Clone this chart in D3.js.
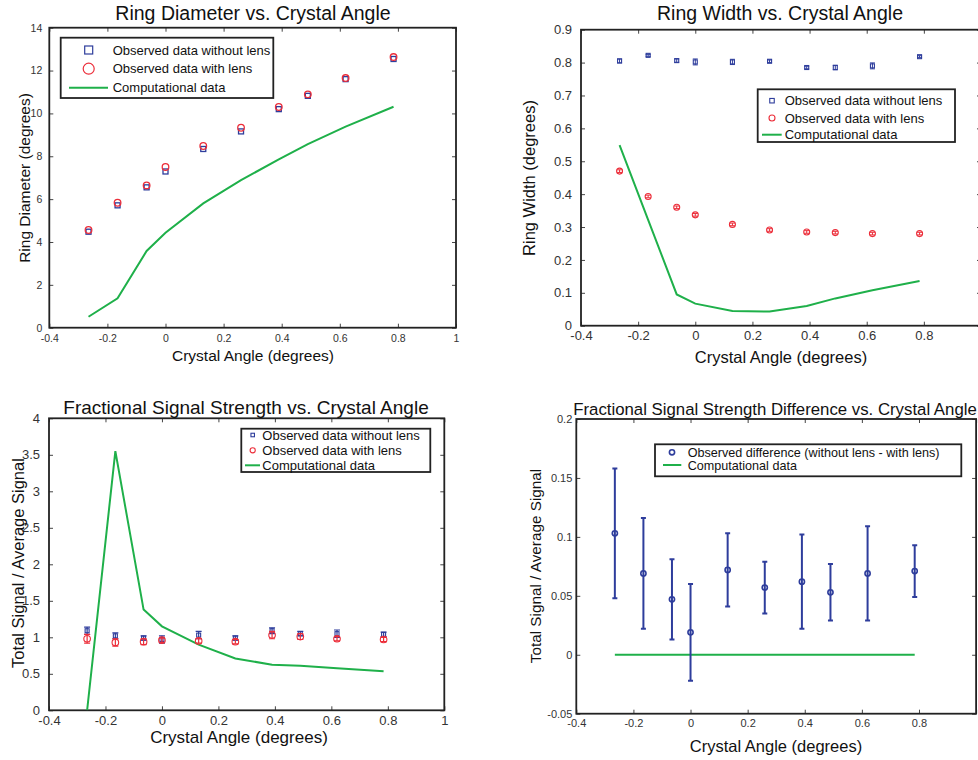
<!DOCTYPE html>
<html><head><meta charset="utf-8">
<script src="https://cdn.jsdelivr.net/npm/d3@7"></script>
<style>body{margin:0;background:#fff}svg{display:block;font-family:"Liberation Sans",Arial,sans-serif}</style>
</head><body><svg id="c" width="978" height="760"></svg>
<script>
// ---------- data ----------
const xAngle = [-0.265, -0.165, -0.065, 0, 0.13, 0.26, 0.39, 0.49, 0.62, 0.785];

const diamNoLens = [4.48, 5.71, 6.55, 7.29, 8.34, 9.16, 10.20, 10.82, 11.60, 12.54];
const diamLens   = [4.56, 5.83, 6.64, 7.50, 8.48, 9.33, 10.30, 10.89, 11.65, 12.63];
const diamComp   = [0.51, 1.37, 3.58, 4.43, 5.80, 6.89, 7.85, 8.57, 9.38, 10.31];

const widthNoLens    = [0.805, 0.822, 0.806, 0.802, 0.802, 0.804, 0.785, 0.785, 0.790, 0.818];
const widthNoLensErr = [0.006, 0.003, 0.005, 0.009, 0.008, 0.004, 0.004, 0.007, 0.009, 0.003];
const widthLens      = [0.470, 0.393, 0.360, 0.337, 0.308, 0.291, 0.285, 0.283, 0.280, 0.280];
const widthLensErr   = [0.004, 0.004, 0.004, 0.004, 0.004, 0.004, 0.004, 0.004, 0.004, 0.004];
const widthComp      = [0.549, 0.322, 0.095, 0.067, 0.045, 0.043, 0.060, 0.083, 0.108, 0.136];

const sigNoLens    = [1.09, 1.02, 0.99, 0.97, 1.03, 0.99, 1.09, 1.05, 1.05, 1.04];
const sigNoLensErr = [0.05, 0.04, 0.03, 0.05, 0.05, 0.03, 0.04, 0.03, 0.05, 0.03];
const sigLens      = [0.98, 0.93, 0.94, 0.96, 0.95, 0.94, 1.03, 1.01, 0.98, 0.97];
const sigLensErr   = [0.06, 0.05, 0.04, 0.03, 0.03, 0.03, 0.05, 0.04, 0.03, 0.03];
const sigComp      = [0.00, 3.55, 1.38, 1.15, 0.90, 0.71, 0.625, 0.61, 0.575, 0.535];

const diffObs  = [0.103, 0.069, 0.047, 0.019, 0.072, 0.057, 0.062, 0.053, 0.069, 0.071];
const diffErr  = [0.055, 0.047, 0.034, 0.041, 0.031, 0.022, 0.040, 0.024, 0.040, 0.022];
const diffComp = [0, 0, 0, 0, 0, 0, 0, 0, 0, 0];

const xTicks = [-0.4, -0.2, 0, 0.2, 0.4, 0.6, 0.8, 1];
const xTicksShown = [-0.4, -0.2, 0, 0.2, 0.4, 0.6, 0.8];
const diamTicks = [0, 2, 4, 6, 8, 10, 12, 14];
const widthTicks = [0, 0.1, 0.2, 0.3, 0.4, 0.5, 0.6, 0.7, 0.8, 0.9];
const sigTicks = [0, 0.5, 1, 1.5, 2, 2.5, 3, 3.5, 4];
const diffTicks = [-0.05, 0, 0.05, 0.1, 0.15, 0.2];

const labNoLens = "Observed data without lens";
const labLens = "Observed data with lens";
const labComp = "Computational data";
const labDiff = "Observed difference (without lens - with lens)";

// ---------- styles ----------
const BLUE = "#2e3d9c", RED = "#ec2e3a", GREEN = "#1fb04a", AX = "#222";
const svg = d3.select("#c");
const fmt = d => String(+d.toFixed(2));

function panel(o) {
  const g = svg.append("g");
  const x = d3.scaleLinear().domain([-0.4, 1]).range([o.l, o.r]);
  const y = d3.scaleLinear().domain(o.yd).range([o.b, o.t]);
  const xlabFmt = d => (o.xShown.indexOf(d) >= 0 ? fmt(d) : "");
  const bottom = d3.axisBottom(x).tickValues(xTicks).tickSizeInner(-4).tickSizeOuter(0).tickPadding(o.xpad).tickFormat(xlabFmt);
  const top = d3.axisTop(x).tickValues(xTicks).tickSizeInner(-4).tickSizeOuter(0).tickFormat("");
  const left = d3.axisLeft(y).tickValues(o.yt).tickSizeInner(-4).tickSizeOuter(0).tickPadding(o.ypad).tickFormat(fmt);
  const right = d3.axisRight(y).tickValues(o.yt).tickSizeInner(-4).tickSizeOuter(0).tickFormat("");
  const ax = [
    g.append("g").attr("transform", `translate(0,${o.b})`).call(bottom),
    g.append("g").attr("transform", `translate(0,${o.t})`).call(top),
    g.append("g").attr("transform", `translate(${o.l},0)`).call(left),
    g.append("g").attr("transform", `translate(${o.r},0)`).call(right)
  ];
  ax.forEach(a => {
    a.select(".domain").remove();
    a.selectAll("line").attr("stroke", "#444").attr("stroke-width", 1);
    a.selectAll("text").attr("fill", "#333").style("font-size", o.tfs + "px").style("font-family", "Liberation Sans, Arial, sans-serif");
  });
  ax[0].selectAll("text").filter(function () { return this.textContent === ""; }).remove();
  g.append("rect").attr("x", o.l).attr("y", o.t).attr("width", o.r - o.l).attr("height", o.b - o.t)
    .attr("fill", "none").attr("stroke", AX).attr("stroke-width", 1.8);

  g.append("text").attr("x", o.title[1]).attr("y", o.title[2]).attr("text-anchor", "middle")
    .style("font-size", o.title[3] + "px").attr("fill", "#111").text(o.title[0]);
  g.append("text").attr("x", o.xl[0]).attr("y", o.xl[1]).attr("text-anchor", "middle")
    .style("font-size", o.xl[2] + "px").attr("fill", "#111").text("Crystal Angle (degrees)");
  g.append("text").attr("transform", `translate(${o.yl[1]},${o.yl[2]}) rotate(-90)`).attr("text-anchor", "middle")
    .style("font-size", o.yl[3] + "px").attr("fill", "#111").text(o.yl[0]);

  const clip = "clip" + Math.round(o.l) + Math.round(o.t);
  svg.append("defs").append("clipPath").attr("id", clip).append("rect")
    .attr("x", o.l).attr("y", o.t).attr("width", o.r - o.l).attr("height", o.b - o.t);
  const pg = g.append("g").attr("clip-path", `url(#${clip})`);

  const line = d3.line().x((d, i) => x(xAngle[i])).y(d => y(d));
  pg.append("path").datum(o.comp).attr("d", line).attr("fill", "none").attr("stroke", GREEN).attr("stroke-width", 2);

  o.series.forEach(s => {
    if (s.err) {
      s.vals.forEach((v, i) => {
        const cx = x(xAngle[i]), y1 = y(v - s.err[i]), y2 = y(v + s.err[i]);
        pg.append("line").attr("x1", cx).attr("x2", cx).attr("y1", y1).attr("y2", y2).attr("stroke", s.color).attr("stroke-width", s.ew);
        [y1, y2].forEach(yy => pg.append("line").attr("x1", cx - s.cap).attr("x2", cx + s.cap).attr("y1", yy).attr("y2", yy)
          .attr("stroke", s.color).attr("stroke-width", s.ew));
      });
    }
    s.vals.forEach((v, i) => {
      const cx = x(xAngle[i]), cy = y(v);
      if (s.shape === "sq") pg.append("rect").attr("x", cx - s.size / 2).attr("y", cy - s.size / 2).attr("width", s.size).attr("height", s.size)
        .attr("fill", "none").attr("stroke", s.color).attr("stroke-width", s.sw);
      else pg.append("circle").attr("cx", cx).attr("cy", cy).attr("r", s.size).attr("fill", "none").attr("stroke", s.color).attr("stroke-width", s.sw);
    });
  });

  const L = o.leg;
  g.append("rect").attr("x", L.x0).attr("y", L.y0).attr("width", L.x1 - L.x0).attr("height", L.y1 - L.y0)
    .attr("fill", "#fff").attr("stroke", AX).attr("stroke-width", 1.8);
  L.items.forEach((it, k) => {
    const cy = L.rows[k];
    if (it.type === "line") g.append("line").attr("x1", L.lx[0]).attr("x2", L.lx[1]).attr("y1", cy).attr("y2", cy).attr("stroke", GREEN).attr("stroke-width", 2);
    else if (it.type === "sq") g.append("rect").attr("x", L.mx - it.size / 2).attr("y", cy - it.size / 2).attr("width", it.size).attr("height", it.size)
      .attr("fill", "none").attr("stroke", it.color).attr("stroke-width", it.sw);
    else g.append("circle").attr("cx", L.mx).attr("cy", cy).attr("r", it.size).attr("fill", "none").attr("stroke", it.color).attr("stroke-width", it.sw);
    g.append("text").attr("x", L.tx).attr("y", cy).attr("dy", "0.36em").style("font-size", L.fs + "px").attr("fill", "#111").text(it.label);
  });
}

// Panel 1: Ring Diameter
panel({
  l: 49.3, r: 456, t: 27.7, b: 327.7, yd: [0, 14], yt: diamTicks, tfs: 10.5, xpad: 7, ypad: 7, xShown: xTicks,
  title: ["Ring Diameter vs. Crystal Angle", 253, 20, 19.5],
  xl: [253, 361, 15.5], yl: ["Ring Diameter (degrees)", 30, 178, 15.5],
  comp: diamComp,
  series: [
    {vals: diamNoLens, shape: "sq", size: 5, sw: 1.3, color: BLUE},
    {vals: diamLens, shape: "c", size: 3.3, sw: 1.3, color: RED}
  ],
  leg: {x0: 60.7, x1: 273.3, y0: 37.7, y1: 98, rows: [50, 68.7, 87.7], mx: 88.7, tx: 112.7, lx: [69, 108], fs: 13,
    items: [{type: "sq", size: 8, sw: 1.2, color: BLUE, label: labNoLens},
            {type: "c", size: 5.5, sw: 1.2, color: RED, label: labLens},
            {type: "line", label: labComp}]}
});

// Panel 2: Ring Width
panel({
  l: 581, r: 981, t: 29.7, b: 325.7, yd: [0, 0.9], yt: widthTicks, tfs: 13, xpad: 5, ypad: 9, xShown: xTicksShown,
  title: ["Ring Width vs. Crystal Angle", 780, 20, 19.5],
  xl: [781, 363, 16.5], yl: ["Ring Width (degrees)", 535, 178, 16.5],
  comp: widthComp,
  series: [
    {vals: widthNoLens, err: widthNoLensErr, cap: 2.5, ew: 1, shape: "sq", size: 4, sw: 1.1, color: BLUE},
    {vals: widthLens, err: widthLensErr, cap: 2.5, ew: 1, shape: "c", size: 3, sw: 1.1, color: RED}
  ],
  leg: {x0: 757.7, x1: 955, y0: 89.3, y1: 142, rows: [100.7, 118, 134.7], mx: 772, tx: 784.7, lx: [762, 781.7], fs: 13,
    items: [{type: "sq", size: 4.5, sw: 1.1, color: BLUE, label: labNoLens},
            {type: "c", size: 3, sw: 1.1, color: RED, label: labLens},
            {type: "line", label: labComp}]}
});

// Panel 3: Fractional signal strength
panel({
  l: 49, r: 444.3, t: 418.3, b: 710.3, yd: [0, 4], yt: sigTicks, tfs: 13, xpad: 5, ypad: 9, xShown: xTicks,
  title: ["Fractional Signal Strength vs. Crystal Angle", 246, 414, 19],
  xl: [239, 743, 17], yl: ["Total Signal / Average Signal", 24, 563, 16.5],
  comp: sigComp,
  series: [
    {vals: sigNoLens, err: sigNoLensErr, cap: 3, ew: 1.2, shape: "sq", size: 4, sw: 1.1, color: BLUE},
    {vals: sigLens, err: sigLensErr, cap: 3, ew: 1.2, shape: "c", size: 3.3, sw: 1.1, color: RED}
  ],
  leg: {x0: 241.3, x1: 430.3, y0: 428.7, y1: 472, rows: [435, 450.3, 465.3], mx: 252.7, tx: 262.3, lx: [245, 260], fs: 13,
    items: [{type: "sq", size: 3.5, sw: 1.1, color: BLUE, label: labNoLens},
            {type: "c", size: 2.6, sw: 1.1, color: RED, label: labLens},
            {type: "line", label: labComp}]}
});

// Panel 4: Difference
panel({
  l: 576.3, r: 976.1, t: 419, b: 713.7, yd: [-0.05, 0.2], yt: diffTicks, tfs: 11, xpad: 6, ypad: 4, xShown: xTicksShown,
  title: ["Fractional Signal Strength Difference vs. Crystal Angle", 775, 415, 16.8],
  xl: [776, 752, 16.5], yl: ["Total Signal / Average Signal", 541, 566, 15.3],
  comp: diffComp,
  series: [
    {vals: diffObs, err: diffErr, cap: 2.5, ew: 2, shape: "c", size: 2.6, sw: 1.6, color: BLUE}
  ],
  leg: {x0: 655, x1: 961.3, y0: 444.3, y1: 476.3, rows: [452.3, 465], mx: 672, tx: 687.7, lx: [663, 681.3], fs: 12.6,
    items: [{type: "c", size: 2.6, sw: 1.6, color: BLUE, label: labDiff},
            {type: "line", label: labComp}]}
});
</script></body></html>
